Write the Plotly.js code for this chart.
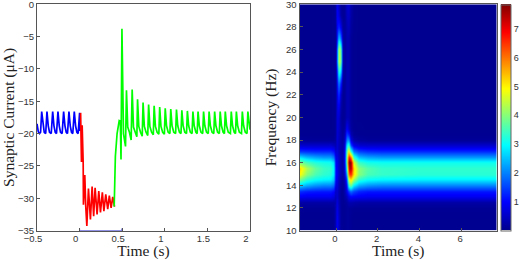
<!DOCTYPE html>
<html><head><meta charset="utf-8">
<script src="https://cdn.plot.ly/plotly-3.0.1.min.js"></script>
<style>html,body{margin:0;padding:0;background:#fff}#c{width:519px;height:260px}</style></head>
<body><div id="c"></div>
<script>
// Synaptic current, before stimulus
const blueT = [-0.5,-0.485,-0.47,-0.458,-0.445,-0.43,-0.415,-0.398,-0.383,-0.368,-0.353,-0.333,-0.316,-0.301,-0.286,-0.271,-0.254,-0.239,-0.224,-0.205,-0.1875,-0.172,-0.157,-0.142,-0.125,-0.11,-0.095,-0.08,-0.0625,-0.047,-0.032,-0.017,0,0.006];
const blueI = [-18.5,-19.7,-20,-19.8,-16.6,-18.8,-19.8,-20,-16.6,-18.8,-19.8,-20,-16.6,-18.8,-19.8,-20,-16.6,-18.8,-19.8,-20,-16.6,-18.8,-19.8,-20,-16.6,-18.8,-19.8,-20,-16.6,-18.8,-19.8,-20,-16.8,-19.6];
// Synaptic current, during stimulus
const redT = [0.012,0.022,0.03,0.042,0.045,0.061,0.072,0.085,0.104,0.127,0.147,0.165,0.182,0.205,0.225,0.245,0.267,0.285,0.307,0.33,0.349,0.37,0.389,0.41];
const redI = [-16.8,-24.4,-18.7,-24.5,-31,-26.4,-31.2,-34.3,-28.5,-33.3,-28.2,-32.8,-28.4,-32.5,-28.9,-32.2,-29.1,-32,-29.4,-31.7,-29.6,-31.5,-29.8,-31.3];
// Synaptic current, after stimulus
const greenT = [0.406,0.412,0.42,0.44,0.465,0.478,0.486,0.497,0.515,0.539,0.55,0.565,0.585,0.605,0.617,0.632,0.652,0.672,0.68,0.695,0.715,0.735,0.745,0.76,0.78,0.8,0.81,0.825,0.845,0.865,0.875,0.89,0.91,0.93,0.94,0.955,0.975,0.995,1.005,1.02,1.04,1.06,1.07,1.085,1.105,1.127,1.137,1.152,1.172,1.19,1.2,1.215,1.235,1.255,1.265,1.28,1.3,1.32,1.33,1.345,1.365,1.38,1.39,1.405,1.425,1.445,1.455,1.47,1.49,1.51,1.52,1.535,1.555,1.575,1.585,1.6,1.62,1.64,1.65,1.665,1.685,1.7,1.71,1.725,1.745,1.77,1.78,1.795,1.815,1.83,1.84,1.855,1.875,1.9,1.91,1.925,1.945,1.965,1.975,1.99,2.0];
const greenI = [-31.3,-27,-23.5,-20,-18,-18.1,-24,-3.8,-20,-22,-13.3,-19,-19.8,-21,-13.2,-19,-19.8,-20.5,-14.7,-18.9,-19.8,-20.4,-15.2,-18.9,-19.8,-20.3,-15.5,-18.9,-19.8,-20.2,-15.7,-18.9,-19.8,-20.1,-15.9,-18.9,-19.8,-20.1,-16.1,-18.8,-19.8,-20,-16.2,-18.8,-19.8,-20,-16.3,-18.8,-19.8,-20,-16.4,-18.8,-19.8,-20,-16.5,-18.8,-19.8,-20,-16.6,-18.8,-19.8,-20,-16.6,-18.8,-19.8,-20,-16.6,-18.8,-19.8,-20,-16.6,-18.8,-19.8,-20,-16.6,-18.8,-19.8,-20,-16.6,-18.8,-19.8,-20,-16.6,-18.8,-19.8,-20,-16.6,-18.8,-19.8,-20,-16.6,-18.8,-19.8,-20,-16.6,-18.8,-19.8,-20,-16.6,-18.8,-19.4];
// Stimulus marker along the lower axis
const stimT = [0,0,0,0.5,0.5,0.5];
const stimI = [-34.7,-35,-35,-35,-34.7,-35];

// Spectrogram
const specTimes = [-1.75,-1.4,-1,-0.6,-0.25,-0.12,-0.04,0.04,0.12,0.2,0.3,0.4,0.5,0.6,0.7,0.85,1.1,1.5,2.2,4,7.72];
const specFreqs = [10,11,12,12.5,13,13.5,14,14.5,15,15.5,16,16.5,17,17.5,18,18.5,19,20,21,22,23,24,25,26,27,28,29,30];
const specPower = [
[.02,.02,.02,.02,.02,.05,.35,.9,.5,.1,.05,.05,.1,.1,.05,.02,.02,.02,.02,.02,.02],
[.02,.02,.02,.02,.02,.05,.35,.9,.5,.1,.05,.05,.1,.1,.05,.02,.02,.02,.02,.02,.02],
[.05,.05,.05,.05,.05,.08,.35,.8,.4,.1,.04,.05,.1,.1,.08,.05,.05,.05,.05,.05,.05],
[.2,.2,.2,.2,.2,.2,.3,.7,.35,.1,.05,.08,.15,.3,.28,.24,.2,.2,.2,.2,.2],
[.9,.85,.85,.85,.85,.7,.35,.6,.3,.1,.05,.2,.4,.8,1,.95,.9,.85,.85,.85,.85],
[1.3,1.2,1.15,1.15,1.15,1,.4,.6,.3,.1,.05,.3,.8,1.4,1.8,1.5,1.25,1.15,1.15,1.15,1.15],
[2.6,2.3,2.1,2,2,1.8,.6,.7,.35,.15,.08,.3,1,3.2,3.8,2.8,2.3,2.1,2,2,2],
[3.9,3.3,3,2.9,2.85,2.5,.9,.85,.4,.2,.1,.4,1.5,4.6,5.2,4.2,3.3,3,2.9,2.85,2.85],
[4.9,4,3.5,3.3,3.2,2.8,1,.95,.5,.3,.15,.6,2.3,6,6.6,5.1,4,3.5,3.35,3.25,3.25],
[5.2,4.3,3.7,3.4,3.3,2.9,1,.9,.5,.3,.15,.8,3.1,7,7.6,5.2,4,3.6,3.35,3.3,3.3],
[3.9,3.5,3.2,3.1,3.05,2.7,.9,.9,.5,.3,.15,.9,3.8,7.6,7.84,4.6,3.4,3.1,3.05,3.05,3.05],
[2.8,2.5,2.3,2.2,2.2,1.9,.7,.8,.5,.3,.2,1,3.8,6.8,6.2,3.4,2.5,2.3,2.2,2.2,2.2],
[1.4,1.35,1.3,1.3,1.3,1.1,.5,.7,.4,.25,.2,.9,3.5,5,3.4,1.9,1.5,1.35,1.3,1.3,1.3],
[.6,.55,.55,.55,.55,.45,.3,.6,.4,.25,.2,.7,2.8,3.4,1.6,.8,.6,.55,.55,.55,.55],
[.12,.1,.1,.1,.1,.1,.2,.6,.4,.25,.15,.5,2,2.2,.8,.28,.15,.1,.1,.1,.1],
[.03,.03,.03,.03,.03,.03,.15,.6,.45,.2,.1,.35,1.4,1.2,.35,.08,.04,.03,.03,.03,.03],
[.01,.01,.01,.01,.01,.02,.12,.6,.5,.2,.08,.2,.9,.5,.15,.04,.02,.01,.01,.01,.01],
[.01,.01,.01,.01,.01,.02,.12,.6,.6,.15,.05,.1,.3,.3,.1,.02,.01,.01,.01,.01,.01],
[.01,.01,.01,.01,.01,.02,.1,.6,.9,.25,.05,.08,.3,.3,.1,.02,.01,.01,.01,.01,.01],
[.01,.01,.01,.01,.01,.02,.1,.6,1.4,.5,.05,.08,.3,.3,.1,.02,.01,.01,.01,.01,.01],
[.01,.01,.01,.01,.01,.02,.1,.7,2,1.2,.1,.08,.3,.3,.1,.02,.01,.01,.01,.01,.01],
[.01,.01,.01,.01,.01,.02,.1,.9,3.1,2.6,.3,.08,.3,.3,.1,.02,.01,.01,.01,.01,.01],
[.01,.01,.01,.01,.01,.02,.1,1.3,4.4,3.9,.4,.1,.3,.3,.1,.02,.01,.01,.01,.01,.01],
[.01,.01,.01,.01,.01,.02,.1,1.2,4.3,3.7,.4,.1,.3,.3,.1,.02,.01,.01,.01,.01,.01],
[.01,.01,.01,.01,.01,.02,.1,.8,2.5,1.9,.3,.1,.3,.3,.1,.02,.01,.01,.01,.01,.01],
[.01,.01,.01,.01,.01,.02,.1,.8,1.3,.8,.15,.1,.3,.4,.15,.03,.01,.01,.01,.01,.01],
[.01,.01,.01,.01,.01,.03,.15,.9,.7,.2,.05,.1,.4,.5,.2,.04,.01,.01,.01,.01,.01],
[.01,.01,.01,.01,.01,.04,.2,.9,.5,.1,.05,.1,.5,.6,.25,.05,.01,.01,.01,.01,.01]
];
const leftXTicks = [-0.5,0,0.5,1,1.5,2];
const leftXLabels = ['\u22120.5','0','0.5','1','1.5','2'];
const leftYTicks = [0,-5,-10,-15,-20,-25,-30,-35];
const rightXTicks = [0,2,4,6];
const rightYTicks = [10,12,14,16,18,20,22,24,26,28,30];
const barTicks = [1,2,3,4,5,6,7];

const tickFont = {family:'Liberation Sans',size:9.5,color:'#333'};
const titleFont = {family:'Liberation Serif',size:15.5,color:'#222'};
const frame = {showline:true,mirror:true,linecolor:'#555',linewidth:1,ticks:'inside',ticklen:3,tickcolor:'#555',tickwidth:1,showgrid:false,zeroline:false,tickfont:tickFont,fixedrange:true,ticklabeloverflow:'allow'};
const jet = [[0,'#00008f'],[0.125,'#0000ff'],[0.375,'#00ffff'],[0.625,'#ffff00'],[0.875,'#ff0000'],[1,'#800000']];
const line = (c,w) => ({color:c,width:w,shape:'linear'});

const traces = [
 {type:'scatter',mode:'lines',x:blueT,y:blueI,line:line('#0000ff',1.7),xaxis:'x',yaxis:'y'},
 {type:'scatter',mode:'lines',x:stimT,y:stimI,line:line('#2222cc',1),xaxis:'x',yaxis:'y'},
 {type:'scatter',mode:'lines',x:redT,y:redI,line:line('#ff0000',1.7),xaxis:'x',yaxis:'y'},
 {type:'scatter',mode:'lines',x:greenT,y:greenI,line:line('#00ff00',1.7),xaxis:'x',yaxis:'y'},
 {type:'heatmap',x:specTimes,y:specFreqs,z:specPower,xaxis:'x2',yaxis:'y2',zmin:0,zmax:7.84,zsmooth:'best',colorscale:jet,
  colorbar:{x:501/519,xanchor:'left',xpad:0,ypad:0,y:29.5/260,yanchor:'bottom',lenmode:'fraction',len:226.2/260,thickness:10,thicknessmode:'pixels',
   tickvals:barTicks,ticktext:barTicks.map(String),ticks:'',outlinecolor:'#666',outlinewidth:1,tickfont:{family:'Liberation Sans',size:9,color:'#333'}}}
];
const layout = {
 width:519,height:260,margin:{l:0,r:0,t:0,b:0,autoexpand:false},paper_bgcolor:'#fff',plot_bgcolor:'#fff',showlegend:false,
 xaxis:{...frame,domain:[37/519,250/519],range:[-0.5,2],tickvals:leftXTicks,ticktext:leftXLabels,ticklabelshift:-4,ticklabelstandoff:-1,anchor:'y',
   title:{text:'Time (s)',font:titleFont,standoff:5}},
 yaxis:{...frame,domain:[29.5/260,255.7/260],range:[-35,0],tickvals:leftYTicks,anchor:'x',
   title:{text:'Synaptic Current (\u03bcA)',font:titleFont,standoff:9}},
 xaxis2:{...frame,domain:[299.5/519,497/519],range:[-1.75,7.72],tickvals:rightXTicks,anchor:'y2',ticklabelshift:-1,ticklabelstandoff:-1,
   title:{text:'Time (s)',font:titleFont,standoff:5}},
 yaxis2:{...frame,domain:[29.5/260,255.7/260],range:[10,30],tickvals:rightYTicks,anchor:'x2',
   title:{text:'Frequency (Hz)',font:titleFont,standoff:5}}
};
Plotly.newPlot('c',traces,layout,{displayModeBar:false,staticPlot:true});
</script></body></html>
